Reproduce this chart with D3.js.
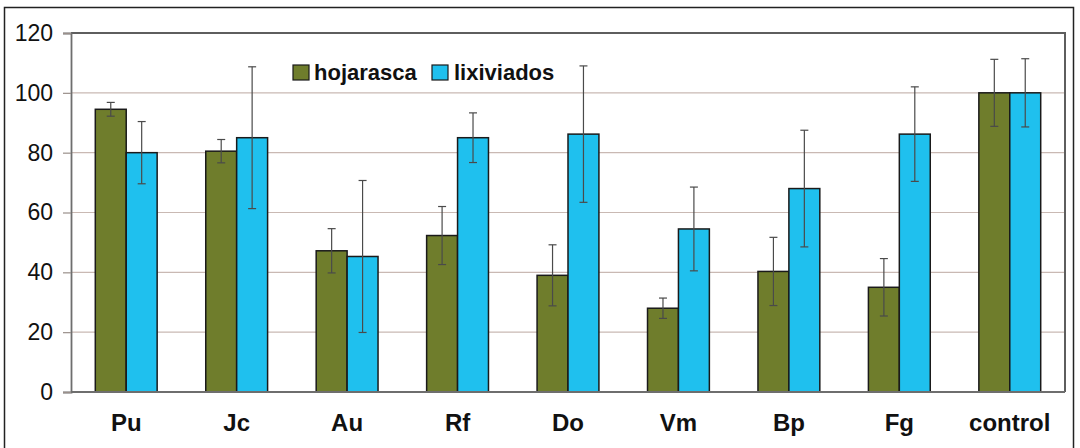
<!DOCTYPE html>
<html>
<head>
<meta charset="utf-8">
<script src="https://cdn.jsdelivr.net/npm/d3@7"></script>
<style>
  html, body { margin: 0; padding: 0; background: #fff; }
  svg { display: block; font-family: Arial, "Liberation Sans", sans-serif; }
</style>
</head>
<body>
<svg id="chart" width="1080" height="448"></svg>
<script>
// Categories and series
const categories = ["Pu", "Jc", "Au", "Rf", "Do", "Vm", "Bp", "Fg", "control"];
const seriesNames = ["hojarasca", "lixiviados"];
const hojarasca = [94.5, 80.5, 47.2, 52.3, 39.0, 28.0, 40.3, 35.0, 100];
const hojarascaErr = [2.3, 3.9, 7.4, 9.7, 10.2, 3.4, 11.4, 9.6, 11.2];
const lixiviados = [80.0, 85.0, 45.3, 85.0, 86.2, 54.5, 68.0, 86.2, 100];
const lixiviadosErr = [10.4, 23.7, 25.4, 8.3, 22.8, 14.0, 19.5, 15.8, 11.4];
const yTicks = [0, 20, 40, 60, 80, 100, 120];

const colors = { hojarasca: "#6f7d2c", lixiviados: "#1fc0ee" };

const svg = d3.select("#chart");
const plot = { left: 71, right: 1065, top: 33, bottom: 392 };

// Outer frame
svg.append("rect")
  .attr("x", 4.5).attr("y", 7.5)
  .attr("width", 1069).attr("height", 445)
  .attr("fill", "#fff").attr("stroke", "#222").attr("stroke-width", 1.5);

const x = d3.scaleBand().domain(categories)
  .range([plot.left, plot.right]).paddingInner(0.44).paddingOuter(0.22);
const xs = d3.scaleBand().domain(seriesNames).range([0, x.bandwidth()]);
const y = d3.scaleLinear().domain([0, 120]).range([plot.bottom, plot.top]);

// Gridlines
svg.append("g").selectAll("line").data(yTicks.filter(t => t > 0 && t < 120)).join("line")
  .attr("x1", plot.left).attr("x2", plot.right)
  .attr("y1", d => y(d)).attr("y2", d => y(d))
  .attr("stroke", "#c9b9b3").attr("stroke-width", 1.2);

// Plot area border (top, right)
svg.append("path")
  .attr("d", `M${plot.left},${plot.top}H${plot.right}V${plot.bottom}`)
  .attr("fill", "none").attr("stroke", "#5e5e5e").attr("stroke-width", 2);

// Y axis
const yAxis = svg.append("g").attr("transform", `translate(${plot.left},0)`)
  .call(d3.axisLeft(y).tickValues(yTicks).tickSize(8).tickPadding(10));
yAxis.select(".domain").attr("stroke", "#6e6e6e").attr("stroke-width", 1.8);
yAxis.selectAll(".tick line").attr("stroke", "#9a8f8a").attr("stroke-width", 1.2);
yAxis.selectAll(".tick text").attr("font-size", 23).attr("fill", "#111")
  .attr("font-family", "Arial, 'Liberation Sans', sans-serif");

// Bars
const rows = categories.map((c, i) => ({
  cat: c,
  vals: [
    { s: "hojarasca", v: hojarasca[i], e: hojarascaErr[i] },
    { s: "lixiviados", v: lixiviados[i], e: lixiviadosErr[i] }
  ]
}));

const groups = svg.append("g").selectAll("g").data(rows).join("g")
  .attr("transform", d => `translate(${x(d.cat)},0)`);

groups.selectAll("rect").data(d => d.vals).join("rect")
  .attr("x", d => xs(d.s)).attr("width", xs.bandwidth())
  .attr("y", d => y(d.v)).attr("height", d => y(0) - y(d.v))
  .attr("fill", d => colors[d.s]).attr("stroke", "#1a1a1a").attr("stroke-width", 1.5);

// Error bars
const eb = groups.selectAll("g.err").data(d => d.vals).join("g").attr("class", "err")
  .attr("stroke", "#4a4a4a").attr("stroke-width", 1.2);
eb.append("line")
  .attr("x1", d => xs(d.s) + xs.bandwidth() / 2).attr("x2", d => xs(d.s) + xs.bandwidth() / 2)
  .attr("y1", d => y(d.v + d.e)).attr("y2", d => y(d.v - d.e));
[1, -1].forEach(sign => {
  eb.append("line")
    .attr("x1", d => xs(d.s) + xs.bandwidth() / 2 - 4).attr("x2", d => xs(d.s) + xs.bandwidth() / 2 + 4)
    .attr("y1", d => y(d.v + sign * d.e)).attr("y2", d => y(d.v + sign * d.e));
});

// X axis baseline
svg.append("line")
  .attr("x1", plot.left).attr("x2", plot.right)
  .attr("y1", plot.bottom).attr("y2", plot.bottom)
  .attr("stroke", "#6e6e6e").attr("stroke-width", 1.8);

// Category labels
svg.append("g").selectAll("text").data(categories).join("text")
  .attr("x", d => x(d) + x.bandwidth() / 2).attr("y", 431)
  .attr("text-anchor", "middle").attr("font-size", 24).attr("font-weight", "bold")
  .attr("fill", "#111").text(d => d);

// Legend
const legendItems = [
  { s: "hojarasca", x: 293, tx: 314 },
  { s: "lixiviados", x: 432, tx: 454 }
];
const lg = svg.append("g").selectAll("g").data(legendItems).join("g");
lg.append("rect")
  .attr("x", d => d.x).attr("y", 65).attr("width", 16).attr("height", 15)
  .attr("fill", d => colors[d.s]).attr("stroke", "#1a1a1a").attr("stroke-width", 1.2);
lg.append("text")
  .attr("x", d => d.tx).attr("y", 80)
  .attr("font-size", 22).attr("font-weight", "bold").attr("fill", "#111")
  .text(d => d.s);
</script>
</body>
</html>
